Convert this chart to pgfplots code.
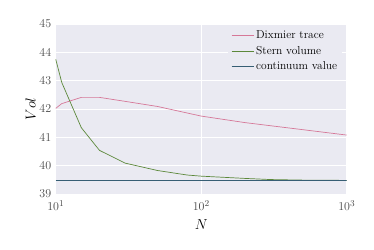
\documentclass[border=0pt]{standalone}
\usepackage{pgfplots}
\pgfplotsset{compat=1.18}
\definecolor{bgc}{RGB}{234,234,242}
\definecolor{cpink}{RGB}{214,120,152}
\definecolor{cgreen}{RGB}{92,136,58}
\definecolor{cblue}{RGB}{54,94,116}
\definecolor{tickc}{RGB}{70,70,70}
\begin{document}
\begin{tikzpicture}[x=1pt,y=1pt]
\useasboundingbox (0,0) rectangle (374,249);
\begin{axis}[
  at={(55.7pt,55pt)}, anchor=south west,
  scale only axis, width=291pt, height=170pt,
  xmode=log, xmin=10, xmax=1000, ymin=39, ymax=45,
  ytick={39,40,41,42,43,44,45},
  xtick={10,100,1000},
  minor xtick={},
  axis background/.style={fill=bgc},
  axis line style={draw=none},
  major tick length=0pt, minor tick length=0pt,
  grid=major, major grid style={white, line width=1pt},
  tick label style={font=\fontsize{12.5}{14}\selectfont, text=tickc},
  xticklabel style={yshift=-3pt},
  yticklabel style={xshift=-1pt},
  xlabel={$N$}, ylabel={$Vol$},
  label style={font=\fontsize{14}{15}\selectfont},
  xlabel style={yshift=-2pt},
  ylabel style={yshift=-3pt},
  legend style={draw=none, fill=bgc, at={(0.985,0.985)}, anchor=north east,
    font=\fontsize{11.5}{13}\selectfont, row sep=2pt},
  legend cell align=left,
  legend image post style={xscale=1.3, line width=0.8pt},
]
\addplot[cpink, line width=0.7pt] coordinates {(10,42.02)(11,42.19)(15,42.41)(20,42.41)(30,42.27)(50,42.09)(100,41.75)(200,41.52)(500,41.27)(1000,41.08)};
\addlegendentry{Dixmier trace}
\addplot[cgreen, line width=0.7pt] coordinates {(10,43.76)(11,42.94)(15,41.34)(20,40.54)(30,40.09)(50,39.83)(80,39.67)(100,39.63)(200,39.55)(300,39.51)(500,39.49)(1000,39.48)};
\addlegendentry{Stern volume}
\addplot[cblue, line width=0.9pt] coordinates {(10,39.478)(1000,39.478)};
\addlegendentry{continuum value}
\end{axis}
\end{tikzpicture}
\end{document}
